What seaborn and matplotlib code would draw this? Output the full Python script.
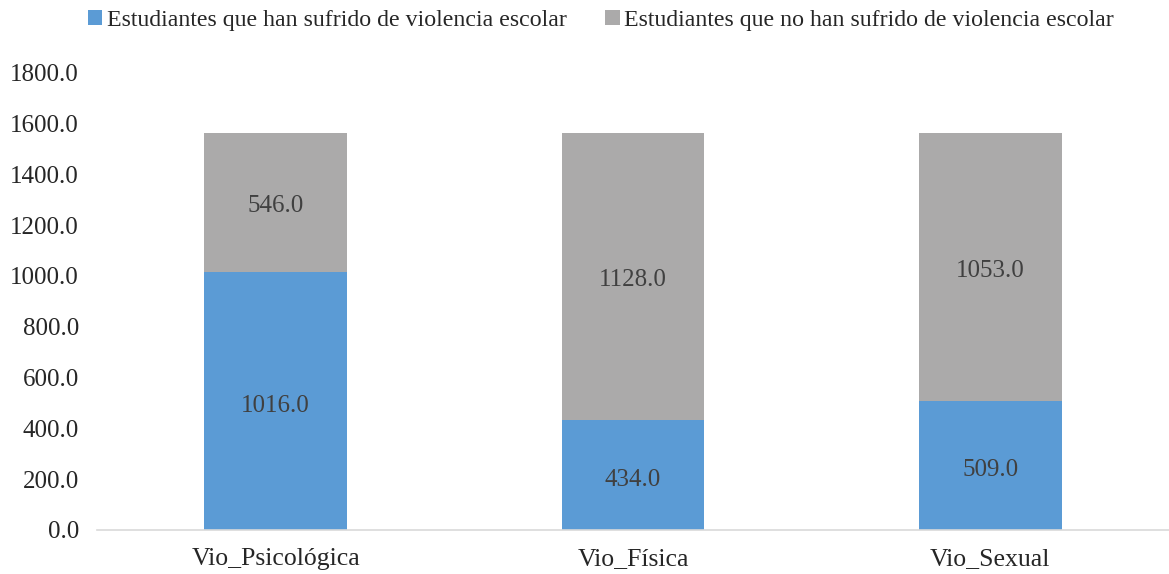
import matplotlib
matplotlib.use("Agg")
import matplotlib.pyplot as plt
import seaborn as sns
import pandas as pd
import numpy as np

categories = ["Vio_Psicológica", "Vio_Física", "Vio_Sexual"]
sufrido = [1016.0, 434.0, 509.0]
no_sufrido = [546.0, 1128.0, 1053.0]
series_names = ["Estudiantes que han sufrido de violencia escolar",
                "Estudiantes que no han sufrido de violencia escolar"]
yticks = [0, 200, 400, 600, 800, 1000, 1200, 1400, 1600, 1800]

BLUE = "#5B9BD5"
GRAY = "#ABAAAA"

sns.set_style("white")
plt.rcParams["font.family"] = ["Liberation Serif", "DejaVu Serif"]

fig = plt.figure(figsize=(11.69, 5.74), dpi=100)
ax = fig.add_axes([0.083, 0.077, 0.917, 0.796])

df = pd.DataFrame({"cat": categories,
                   "total": np.array(sufrido) + np.array(no_sufrido),
                   "suf": sufrido})

sns.barplot(data=df, x="cat", y="total", color=GRAY, width=0.4,
            saturation=1, ax=ax, order=categories, linewidth=0, edgecolor="none")
sns.barplot(data=df, x="cat", y="suf", color=BLUE, width=0.4,
            saturation=1, ax=ax, order=categories, linewidth=0, edgecolor="none")

for i, (a, b) in enumerate(zip(sufrido, no_sufrido)):
    ax.text(i, a / 2 - 20, f"{a:.1f}", ha="center", va="center",
            fontsize=18, color="#404040")
    ax.text(i, a + b / 2 - 15, f"{b:.1f}", ha="center", va="center",
            fontsize=18, color="#404040")

ax.set_ylim(0, 1800)
ax.set_xlim(-0.5, 2.5)
ax.set_yticks(yticks)
ax.set_yticklabels([f"{v:.1f}" for v in yticks], fontsize=18)
ax.tick_params(axis="x", labelsize=18.5, length=0, pad=13)
ax.tick_params(axis="y", length=0, pad=13)
ax.set_xlabel("")
ax.set_ylabel("")
for s in ["top", "right", "left"]:
    ax.spines[s].set_visible(False)
ax.spines["bottom"].set_color("#D9D9D9")
ax.spines["bottom"].set_linewidth(1.2)

from matplotlib.patches import Patch
handles = [Patch(facecolor=BLUE, edgecolor="none"), Patch(facecolor=GRAY, edgecolor="none")]
fig.legend(handles, series_names, loc="upper center", bbox_to_anchor=(0.5142, 1.02),
           ncol=2, frameon=False, fontsize=17.2, handlelength=0.6, handleheight=0.6,
           handletextpad=0.2, columnspacing=1.6)

fig.savefig("out.png", dpi=100)
